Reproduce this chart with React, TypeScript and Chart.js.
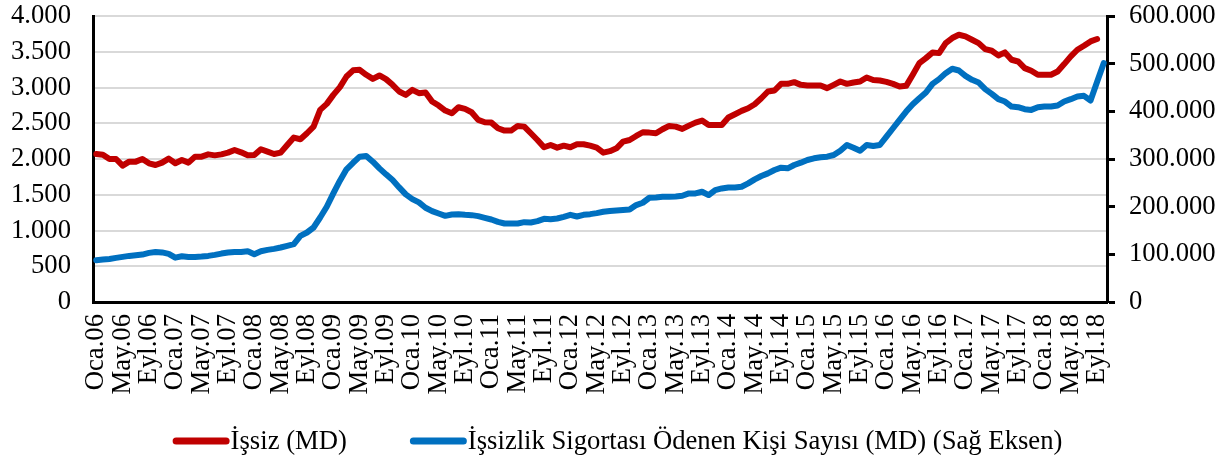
import React, { useEffect, useRef } from 'react';
import { Chart, registerables } from 'chart.js';

Chart.register(...registerables);

const FONT = '"Liberation Serif", "Times New Roman", serif';
const FS = 26.67;

const MONTHS = ['Oca', 'Şub', 'Mar', 'Nis', 'May', 'Haz', 'Tem', 'Ağu', 'Eyl', 'Eki', 'Kas', 'Ara'];
const YEARS = ['06', '07', '08', '09', '10', '11', '12', '13', '14', '15', '16', '17', '18'];
const MONTH_COUNT = 154; // Oca.06 .. Eki.18
const categories = YEARS.flatMap((y) => MONTHS.map((m) => `${m}.${y}`)).slice(0, MONTH_COUNT);

const LABEL_ISSIZ = 'İşsiz (MD)';
const LABEL_SIGORTA = 'İşsizlik Sigortası Ödenen Kişi Sayısı (MD) (Sağ Eksen)';

// İşsiz (MD), thousands – left axis
const issiz: (number | null)[] = [
  2070, 2060, 2000, 2000, 1907, 1963, 1963, 2000, 1940, 1916, 1949, 2005,
  1940, 1986, 1949, 2033, 2033, 2065, 2051, 2065, 2089, 2126, 2093, 2051,
  2056, 2136, 2103, 2070, 2089, 2196, 2299, 2276, 2360, 2453, 2687, 2771,
  2897, 3005, 3154, 3240, 3248, 3178, 3121, 3168, 3117, 3037, 2944, 2897,
  2967, 2921, 2930, 2804, 2748, 2678, 2640, 2724, 2701, 2654, 2547, 2514,
  2509, 2430, 2397, 2397, 2463, 2453, 2360, 2266, 2164, 2196, 2159, 2187,
  2164, 2206, 2206, 2187, 2159, 2089, 2110, 2150, 2243, 2266, 2322, 2374,
  2369, 2360, 2416, 2463, 2453, 2421, 2467, 2509, 2537, 2477, 2477, 2477,
  2580, 2626, 2673, 2710, 2766, 2850, 2944, 2958, 3051, 3051, 3075, 3037,
  3028, 3028, 3028, 2991, 3037, 3084, 3051, 3070, 3084, 3140, 3105, 3098,
  3079, 3051, 3014, 3023, 3178, 3341, 3411, 3491, 3481, 3621, 3692, 3738,
  3715, 3668, 3621, 3537, 3514, 3449, 3491, 3388, 3364, 3271, 3234, 3178,
  3178, 3178, 3224, 3327, 3435, 3528, 3584, 3645, 3678, null,
];

// İşsizlik sigortası ödenen kişi sayısı (MD) – right axis
const sigorta: number[] = [
  87600, 89000, 90400, 92500, 94600, 96700, 98100, 99500, 103000, 105000, 104000, 101000,
  93000, 96000, 94600, 94600, 95300, 96700, 98800, 101600, 103700, 105100, 105100, 106500,
  100200, 106500, 109300, 111400, 114300, 117800, 121300, 138800, 145800, 156300, 177300, 199800,
  227800, 254400, 278300, 292000, 304900, 306300, 294400, 280400, 267800, 255800, 240400, 225700,
  215900, 208900, 197700, 190700, 185700, 180800, 183600, 184300, 182900, 182200, 180100, 176600,
  173100, 168200, 164700, 164700, 164700, 167500, 166800, 169600, 174500, 173800, 175200, 178700,
  182900, 179400, 182900, 184300, 186400, 189300, 191000, 192000, 193000, 194000, 203300, 208200,
  218700, 219400, 220800, 220800, 221500, 222900, 227800, 227800, 231300, 224300, 234800, 238300,
  240400, 240400, 241800, 248800, 257200, 264300, 269900, 276900, 281800, 280400, 287400, 292300,
  297900, 301400, 303500, 304900, 308400, 317500, 329400, 323800, 317500, 329400, 327300, 329400,
  347000, 364500, 382000, 399500, 415000, 427600, 439500, 457700, 467500, 480100, 489300, 485700,
  474500, 466100, 460500, 446500, 436700, 425500, 420600, 410000, 408600, 404400, 403000, 408600,
  410000, 410000, 412100, 420600, 425500, 431100, 432500, 422700, 462000, 501000,
];

const LEFT_MAX = 4000;
const LEFT_STEP = 500;
const RIGHT_MAX = 600000;
const RIGHT_STEP = 100000;

const RED = '#C00000';
const BLUE = '#0070C0';

const fmt = (v: number | string) =>
  String(Math.round(Number(v))).replace(/\B(?=(\d{3})+(?!\d))/g, '.');

const legendPlugin = {
  id: 'customLegend',
  afterDraw(chart: any) {
    const ctx = chart.ctx as CanvasRenderingContext2D;
    ctx.save();
    ctx.font = `${FS}px ${FONT}`;
    const lineW = 57;
    const gap = 1;
    const itemGap = 63;
    const items = chart.data.datasets.map((d: any) => ({
      label: d.label as string,
      color: d.borderColor as string,
      w: ctx.measureText(d.label).width,
    }));
    const total =
      items.reduce((a: number, it: any) => a + lineW + gap + it.w, 0) + itemGap * (items.length - 1);
    let x = (chart.width - total) / 2 + 6;
    const y = chart.height - 18;
    ctx.textBaseline = 'middle';
    ctx.textAlign = 'left';
    for (const it of items) {
      ctx.beginPath();
      ctx.strokeStyle = it.color;
      ctx.lineWidth = 7;
      ctx.lineCap = 'round';
      ctx.moveTo(x + 3.5, y);
      ctx.lineTo(x + lineW - 3.5, y);
      ctx.stroke();
      ctx.fillStyle = '#000';
      ctx.fillText(it.label, x + lineW + gap, y + 1);
      x += lineW + gap + it.w + itemGap;
    }
    ctx.restore();
  },
};

const noPad = (s: any) => {
  s.paddingTop = 0;
  s.paddingBottom = 0;
  s.paddingLeft = 0;
  s.paddingRight = 0;
};

export default function App() {
  const ref = useRef<HTMLCanvasElement>(null);

  useEffect(() => {
    const chart = new Chart(ref.current as HTMLCanvasElement, {
      type: 'line',
      data: {
        labels: categories,
        datasets: [
          {
            label: LABEL_ISSIZ,
            data: issiz,
            borderColor: RED,
            backgroundColor: RED,
            borderWidth: 6,
            pointRadius: 0,
            tension: 0,
            borderCapStyle: 'round',
            borderJoinStyle: 'round',
            yAxisID: 'y',
          },
          {
            label: LABEL_SIGORTA,
            data: sigorta,
            borderColor: BLUE,
            backgroundColor: BLUE,
            borderWidth: 6,
            pointRadius: 0,
            tension: 0,
            borderCapStyle: 'round',
            borderJoinStyle: 'round',
            yAxisID: 'y1',
          },
        ],
      },
      options: {
        responsive: false,
        maintainAspectRatio: false,
        animation: false,
        devicePixelRatio: 1,
        layout: { padding: { top: 16, left: 0, right: 0, bottom: 0 } },
        plugins: {
          legend: { display: false },
          tooltip: { enabled: false },
        },
        scales: {
          x: {
            type: 'category',
            offset: true,
            grid: { display: false },
            border: { display: true, color: '#000', width: 3 },
            ticks: {
              autoSkip: false,
              minRotation: 90,
              maxRotation: 90,
              padding: 4,
              color: '#000',
              font: { family: FONT, size: FS },
              callback: (_v: any, i: number) => (i % 4 === 0 ? categories[i] : ''),
            },
            afterFit: (s: any) => {
              s.height = 157;
              noPad(s);
            },
          },
          y: {
            position: 'left',
            min: 0,
            max: LEFT_MAX,
            ticks: {
              stepSize: LEFT_STEP,
              autoSkip: false,
              padding: 22,
              color: '#000',
              font: { family: FONT, size: FS },
              callback: (v: any) => fmt(v),
            },
            grid: { color: '#d9d9d9', lineWidth: 2, drawTicks: false },
            border: { display: true, color: '#000', width: 3 },
            afterFit: (s: any) => {
              s.width = 93;
              noPad(s);
            },
          },
          y1: {
            position: 'right',
            min: 0,
            max: RIGHT_MAX,
            ticks: {
              stepSize: RIGHT_STEP,
              autoSkip: false,
              padding: 14,
              color: '#000',
              font: { family: FONT, size: FS },
              callback: (v: any) => fmt(v),
            },
            grid: {
              drawOnChartArea: false,
              drawTicks: true,
              tickLength: 8,
              tickColor: '#000',
              tickWidth: 3,
            },
            border: { display: true, color: '#000', width: 3 },
            afterFit: (s: any) => {
              s.width = 116;
              noPad(s);
            },
          },
        },
      },
      plugins: [legendPlugin],
    } as any);
    return () => chart.destroy();
  }, []);

  return (
    <div style={{ position: 'fixed', left: 0, top: 0, width: 1223, height: 459, background: '#fff' }}>
      <canvas ref={ref} width={1223} height={459} style={{ width: 1223, height: 459, display: 'block' }} />
    </div>
  );
}
